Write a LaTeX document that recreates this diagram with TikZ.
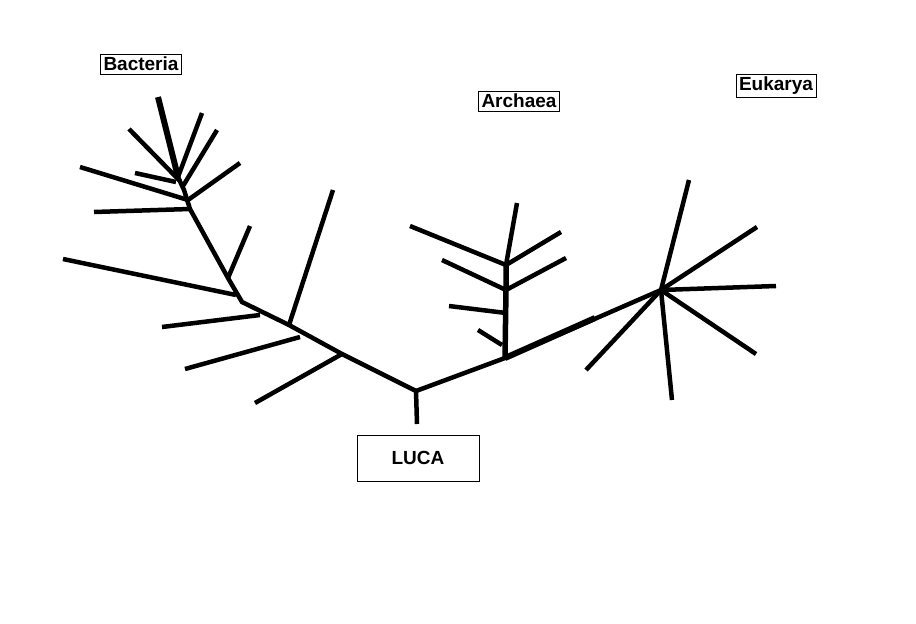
\documentclass[tikz,border=0pt]{standalone}
\usepackage{fontspec}
\setmainfont{Liberation Sans}
\begin{document}
\begin{tikzpicture}[x=1pt, y=-1pt, line width=4.5pt,
    label/.style = {draw, line width=0.8pt, font=\fontsize{19}{22}\selectfont\bfseries, inner sep=3pt}]
        \useasboundingbox (0,0) rectangle (916,624);
        % inner points of the tree
        \coordinate (R) at (416,391);
        \coordinate (Rs) at (417,424);
        \coordinate (B1) at (342,354);
        \coordinate (B2) at (300,337);
        \coordinate (B3) at (289,325);
        \coordinate (B4) at (260,315);
        \coordinate (B5) at (242,302);
        \coordinate (B6) at (228,278);
        \coordinate (B7) at (190,209);
        \coordinate (B8) at (184,190);
        \coordinate (B9) at (178,177);
        \coordinate (A1) at (505,358);
        \coordinate (A2) at (595,318);
        \coordinate (A3) at (506,313);
        \coordinate (A4) at (506,290);
        \coordinate (A5) at (506,265);
        \coordinate (E) at (661,290);

        % trunks
        \draw (Rs) -- (R) -- (B1) -- (B3) -- (B5) -- (B6) -- (B7) -- (B8) -- (B9);
        \draw (R) -- (A1) -- (E);
        \draw[line width=6pt] (A1) -- (A2);
        \draw[line width=5.5pt] (A1) -- (A4) -- (A5);
        \draw (A5) -- (517,203);

        % bacteria leaves
        \foreach \p/\q in {B1/{255,403}, B2/{185,369}, B3/{333,190}, B4/{162,327},
            {236,295}/{63,259}, B6/{250,226}, B7/{94,212}, {188,200}/{80,167},
            {188,200}/{240,163}, {176,182}/{135,173}, {180,181}/{129,129},
            B9/{202,113}, {183,186}/{217,130}}
            \draw (\p) -- (\q);
        \draw[line width=6pt] (B9) -- (158,97);

        % archaea leaves
        \foreach \p/\q in {A5/{410,226}, A5/{561,232}, A4/{442,260}, A4/{566,258},
            A3/{449,306}, {502,345}/{478,330}}
            \draw (\p) -- (\q);

        % eukarya leaves
        \foreach \q in {{689,180}, {757,227}, {776,286}, {756,354}, {672,400}, {586,370}}
            \draw (E) -- (\q);

        \node[label] (bac) at (141,64) {Bacteria};
        \node[label] (arc) at (519,101) {Archaea};
        \node[label] (euk) at (776,86) {Eukarya};
        \node[label, minimum width=122pt, minimum height=46pt] (luca) at (418,458) {LUCA};
    \end{tikzpicture}
\end{document}
